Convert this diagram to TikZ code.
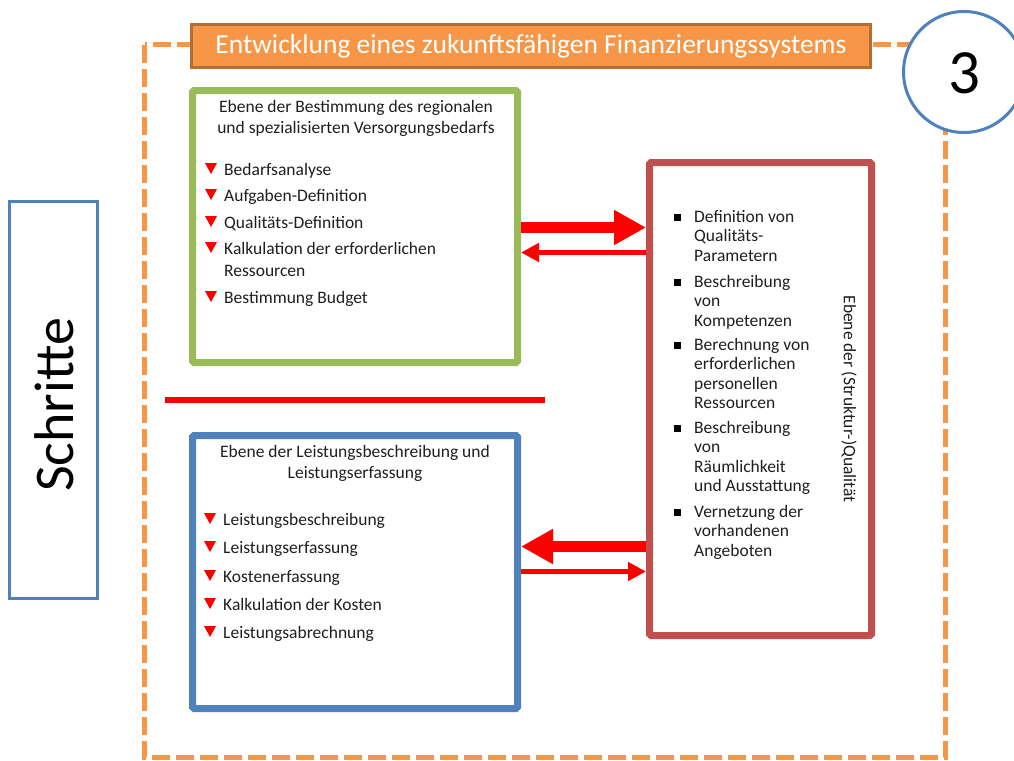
\documentclass[tikz,border=0pt]{standalone}
\usepackage{fontspec}
\setmainfont{Carlito}
\usetikzlibrary{arrows.meta,shapes.geometric}
\definecolor{orangeF}{HTML}{F79646}
\definecolor{orangeB}{HTML}{B66D31}
\definecolor{greenB}{HTML}{9BBB59}
\definecolor{blueB}{HTML}{4F81BD}
\definecolor{redB}{HTML}{C0504D}
\definecolor{arrowred}{HTML}{FF0000}
\definecolor{txt}{HTML}{1F1F1F}
\begin{document}
\begin{tikzpicture}[x=1pt,y=-1pt,
  panel/.style={draw, line width=7pt, rounded corners=1.5pt, fill=white, inner sep=0pt, anchor=north west},
  item/.style={anchor=base west, inner sep=0pt, text=txt, align=left, font=\fontsize{17.5}{22}\selectfont},
  ritem/.style={item, font=\fontsize{17.5}{19.6}\selectfont},
  ptitle/.style={anchor=base, inner sep=0pt, text=txt, align=center, font=\fontsize{17.5}{21}\selectfont},
  bigarrow/.style={draw=arrowred, line width=11pt, -{Triangle[length=32pt,width=33pt]}},
  thinarrow/.style={draw=arrowred, line width=5pt, -{Triangle[length=18pt,width=18pt]}},
  tri/.pic={\fill[arrowred] (-6,-12) -- (6,-12) -- (0,-1) -- cycle;},
  sq/.pic={\fill[black] (-3.5,-8) rectangle (3.5,-1);}
]
\useasboundingbox (0,0) rectangle (1014,760);
\fill[white] (0,0) rectangle (1014,760);

% dashed frame
\draw[orangeF, line width=5pt, dash pattern=on 18pt off 6pt] (144.5,45) rectangle (945,757.5);

% title bar
\node[draw=orangeB, fill=orangeF, line width=3pt, inner sep=0pt, anchor=north west,
      minimum width=679pt, minimum height=43pt] (title) at (190,23) {};
\node[text=white, inner sep=0pt, font=\fontsize{27.5}{30}\selectfont] (titletext) at (531,46) {Entwicklung eines zukunftsfähigen Finanzierungssystems};

% circle 3
\node[circle, draw=blueB, line width=3pt, fill=white, minimum size=121pt, inner sep=0pt] (num) at (964,72) {};
\node[inner sep=0pt, font=\fontsize{63}{70}\selectfont] (numtext) at (964,73) {3};

% Schritte
\node[draw=blueB, line width=3pt, inner sep=0pt, anchor=north west, minimum width=88pt, minimum height=397pt] (schritte) at (8,200) {};
\node[rotate=90, inner sep=0pt, text=black, font=\fontsize{56}{60}\selectfont] (schrittetext) at (54,405) {Schritte};

% green panel
\node[panel, draw=greenB, minimum width=325pt, minimum height=272pt] (green) at (189,87) {};
\node[ptitle] (gt) at (356,133) {Ebene der Bestimmung des regionalen\\und spezialisierten Versorgungsbedarfs};
\pic at (211,175) {tri};
\node[item] (g1) at (224,175) {Bedarfsanalyse};
\pic at (211,201) {tri};
\node[item] (g2) at (224,201) {Aufgaben-Definition};
\pic at (211,228) {tri};
\node[item] (g3) at (224,228) {Qualitäts-Definition};
\pic at (211,254) {tri};
\node[item] (g4) at (224,276) {Kalkulation der erforderlichen\\Ressourcen};
\pic at (211,303) {tri};
\node[item] (g5) at (224,303) {Bestimmung Budget};

% separator
\draw[arrowred, line width=6pt] (165,400) -- (545,400);

% blue panel
\node[panel, draw=blueB, minimum width=325pt, minimum height=273pt] (blue) at (189,432) {};
\node[ptitle] (bt) at (355,478) {Ebene der Leistungsbeschreibung und\\Leistungserfassung};
\pic at (210,525) {tri};
\node[item] (b1) at (223,525) {Leistungsbeschreibung};
\pic at (210,553) {tri};
\node[item] (b2) at (223,553) {Leistungserfassung};
\pic at (210,582) {tri};
\node[item] (b3) at (223,582) {Kostenerfassung};
\pic at (210,610) {tri};
\node[item] (b4) at (223,610) {Kalkulation der Kosten};
\pic at (210,638) {tri};
\node[item] (b5) at (223,638) {Leistungsabrechnung};

% red panel
\node[panel, draw=redB, minimum width=222pt, minimum height=473pt] (red) at (646,159) {};
\pic at (677.5,222) {sq};
\node[ritem] (r1) at (694,261.2) {Definition von\\Qualitäts-\\Parametern};
\pic at (677.5,287) {sq};
\node[ritem] (r2) at (694,326.2) {Beschreibung\\von\\Kompetenzen};
\pic at (677.5,350) {sq};
\node[ritem] (r3) at (694,408.8) {Berechnung von\\erforderlichen\\personellen\\Ressourcen};
\pic at (677.5,433) {sq};
\node[ritem] (r4) at (694,491.8) {Beschreibung\\von\\Räumlichkeit\\und Ausstattung};
\pic at (677.5,517) {sq};
\node[ritem] (r5) at (694,556.2) {Vernetzung der\\vorhandenen\\Angeboten};
\node[rotate=-90, inner sep=0pt, text=txt, font=\fontsize{17.5}{20}\selectfont] (rlabel) at (849,399) {Ebene der (Struktur-)Qualität};

% arrows
\draw[bigarrow] (green.east |- 0,227.5) -- (red.west |- 0,227.5);
\draw[thinarrow] (red.west |- 0,252.5) -- (green.east |- 0,252.5);
\draw[bigarrow] (red.west |- 0,546.5) -- (blue.east |- 0,546.5);
\draw[thinarrow] (blue.east |- 0,571.5) -- (red.west |- 0,571.5);
\end{tikzpicture}
\end{document}
